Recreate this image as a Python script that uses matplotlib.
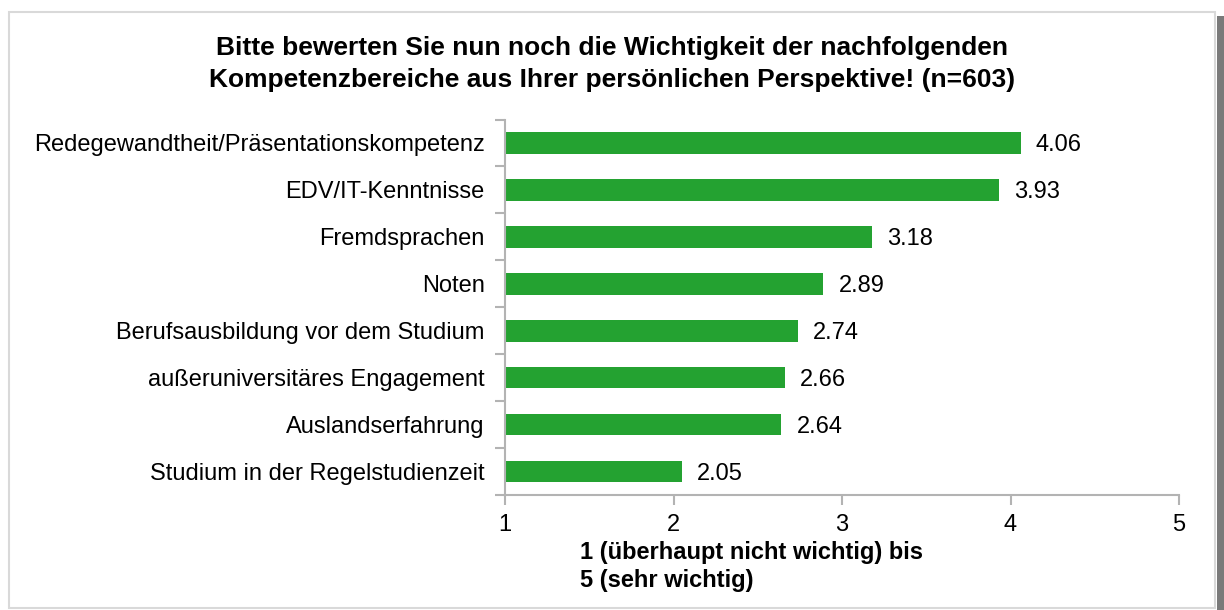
import matplotlib
matplotlib.use("Agg")
import matplotlib.pyplot as plt
from matplotlib.patches import Rectangle

categories = [
    "Redegewandtheit/Präsentationskompetenz",
    "EDV/IT-Kenntnisse",
    "Fremdsprachen",
    "Noten",
    "Berufsausbildung vor dem Studium",
    "außeruniversitäres Engagement",
    "Auslandserfahrung",
    "Studium in der Regelstudienzeit",
]
values = [4.06, 3.93, 3.18, 2.89, 2.74, 2.66, 2.64, 2.05]
x_ticks = [1, 2, 3, 4, 5]

title = ("Bitte bewerten Sie nun noch die Wichtigkeit der nachfolgenden\n"
         "Kompetenzbereiche aus Ihrer persönlichen Perspektive! (n=603)")
x_label = "1 (überhaupt nicht wichtig) bis\n5 (sehr wichtig)"

plt.rcParams["font.family"] = ["Liberation Sans", "DejaVu Sans"]

W, H = 1224, 610
fig = plt.figure(figsize=(W / 100, H / 100), dpi=100)

# frame with drop shadow
fig.patches.append(Rectangle((1217 / W, 0), 7 / W, 1 - 16 / H,
                             transform=fig.transFigure, facecolor="#7a7a7a",
                             edgecolor="none", zorder=-2))
fig.patches.append(Rectangle((8.5 / W, 1 - 608 / H), (1215 - 8.5) / W, (608 - 12) / H,
                             transform=fig.transFigure, facecolor="white",
                             edgecolor="#d9d9d9", linewidth=1.5, zorder=-1))

left, right = 505, 1179
top, bottom = 119.5, 495
ax = fig.add_axes([left / W, 1 - bottom / H, (right - left) / W, (bottom - top) / H])
ax.set_facecolor("none")

fs = 17
n = len(categories)
ypos = list(range(n - 1, -1, -1))
ax.barh(ypos, [v - 1 for v in values], left=1, height=0.46, color="#24a231",
        edgecolor="none", zorder=2)
for y, v in zip(ypos, values):
    ax.text(v + 0.09, y, f"{v:.2f}", va="center_baseline", ha="left", fontsize=fs,
            color="#000000")

ax.set_xlim(1, 5)
ax.set_ylim(-0.5, n - 0.5)
ax.set_xticks(x_ticks)
ax.set_xticklabels([str(t) for t in x_ticks], fontsize=fs)
ax.set_yticks(ypos)
ax.set_yticklabels(categories, fontsize=fs)
for lab in ax.get_yticklabels():
    lab.set_va("center_baseline")
ax.set_yticks([i - 0.5 for i in range(n + 1)], minor=True)

for s in ["top", "right"]:
    ax.spines[s].set_visible(False)
for s in ["left", "bottom"]:
    ax.spines[s].set_color("#b3b3b3")
    ax.spines[s].set_linewidth(1.5)

ax.tick_params(axis="y", which="major", length=0, pad=14.5)
ax.tick_params(axis="y", which="minor", length=7, width=1.5, color="#b3b3b3")
ax.tick_params(axis="x", which="major", length=7, width=1.5, color="#b3b3b3", pad=7)

fig.text(612 / W, 1 - 64 / H, title, ha="center", va="center", fontsize=19,
         fontweight="bold", linespacing=1.4)
fig.text(580 / W, 1 - 566.5 / H, x_label, ha="left", va="center", fontsize=fs,
         fontweight="bold", linespacing=1.3)

fig.savefig("out.png", dpi=100)
